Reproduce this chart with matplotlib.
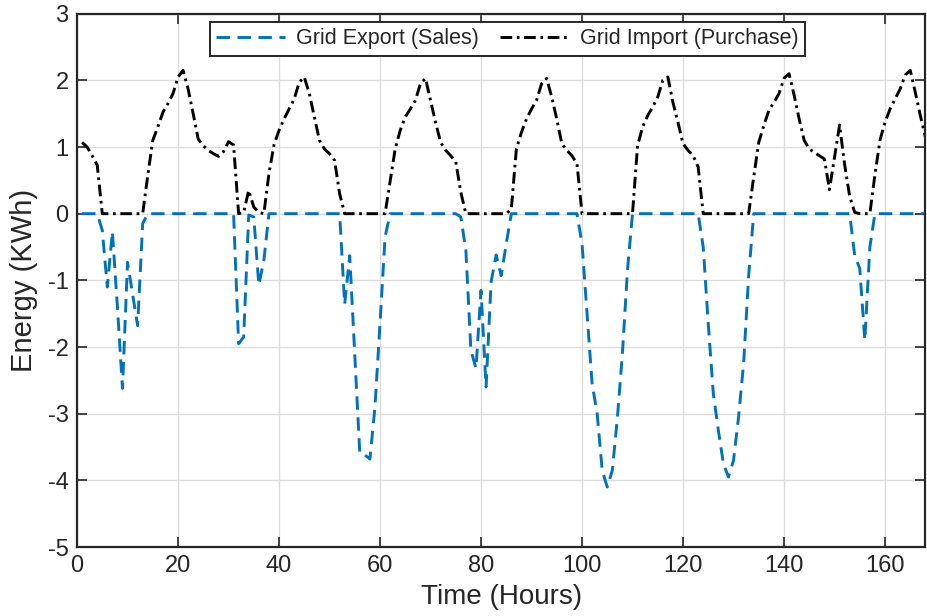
import matplotlib
matplotlib.use("Agg")
import matplotlib.pyplot as plt
import numpy as np

# Hourly energy exchange with the grid over one week
hours = np.arange(1, 169)

grid_import = [
    1.07, 1.00, 0.87, 0.73, 0, 0, 0, 0, 0, 0, 0, 0, 0, 0.57, 1.10, 1.30,
    1.52, 1.65, 1.80, 2.05, 2.15, 1.87, 1.50, 1.12, 1.02, 0.95, 0.90, 0.86,
    0.93, 1.08, 1.03, 0, 0.02, 0.35, 0.10, 0.02, 0, 0.60, 1.03, 1.25,
    1.42, 1.57, 1.72, 1.97, 2.05, 1.80, 1.45, 1.10, 0.97, 0.90, 0.80, 0.30,
    0, 0, 0, 0, 0, 0, 0, 0, 0, 0.48, 0.97, 1.25,
    1.45, 1.57, 1.70, 1.95, 2.03, 1.70, 1.37, 1.07, 0.95, 0.87, 0.78, 0.32,
    0, 0, 0, 0, 0, 0, 0, 0, 0, 0.07, 0.97, 1.22,
    1.42, 1.57, 1.70, 1.95, 2.03, 1.75, 1.42, 1.05, 0.95, 0.87, 0.75, 0,
    0, 0, 0, 0, 0, 0, 0, 0, 0, 0, 1.02, 1.30,
    1.47, 1.60, 1.75, 2.00, 2.05, 1.67, 1.37, 1.05, 0.95, 0.87, 0.70, 0,
    0, 0, 0, 0, 0, 0, 0, 0, 0, 0.55, 1.07, 1.32,
    1.55, 1.67, 1.80, 2.03, 2.10, 1.78, 1.42, 1.10, 0.97, 0.92, 0.87, 0.82,
    0.36, 0.85, 1.33, 0.74, 0.26, 0.02, 0, 0, 0, 0.58, 1.10, 1.37,
    1.57, 1.72, 1.87, 2.08, 2.15, 1.82, 1.47, 1.15,
]

grid_export = [
    0, 0, 0, 0, -0.25, -1.10, -0.27, -1.40, -2.62, -0.73, -1.20, -1.68,
    -0.15, 0, 0, 0, 0, 0, 0, 0, 0, 0, 0, 0,
    0, 0, 0, 0, 0, 0, 0, -1.95, -1.85, -0.02, -0.05, -1.07,
    -0.70, 0, 0, 0, 0, 0, 0, 0, 0, 0, 0, 0,
    0, 0, 0, 0, -1.36, -0.63, -2.10, -3.60, -3.62, -3.68, -2.90, -1.65,
    -0.35, 0, 0, 0, 0, 0, 0, 0, 0, 0, 0, 0,
    0, 0, 0, -0.05, -0.55, -2.05, -2.32, -1.15, -2.60, -1.02, -0.62, -0.93,
    -0.45, 0, 0, 0, 0, 0, 0, 0, 0, 0, 0, 0,
    0, 0, 0, -0.45, -1.50, -2.55, -3.00, -3.85, -4.10, -3.85, -3.07, -2.10,
    -0.85, 0, 0, 0, 0, 0, 0, 0, 0, 0, 0, 0,
    0, 0, 0, -0.50, -1.65, -2.70, -3.25, -3.75, -3.95, -3.70, -3.05, -2.25,
    -0.93, 0, 0, 0, 0, 0, 0, 0, 0, 0, 0, 0,
    0, 0, 0, 0, 0, 0, 0, 0, 0, -0.63, -0.82, -1.90,
    -0.50, 0, 0, 0, 0, 0, 0, 0, 0, 0, 0, 0,
]

x_ticks = list(range(0, 161, 20))
y_ticks = list(range(-5, 4))

series_labels = ["Grid Export (Sales)", "Grid Import (Purchase)"]
x_label = "Time (Hours)"
y_label = "Energy (KWh)"

plt.rcParams["font.family"] = ["Liberation Sans", "DejaVu Sans"]
plt.rcParams["axes.unicode_minus"] = False

axis_color = "#262626"

fig = plt.figure(figsize=(9.28, 6.16), dpi=100)
ax = fig.add_axes([0.083, 0.112, 0.9142, 0.8658])

ax.plot(hours, grid_export, color="#0072BD", linewidth=2.1,
        linestyle=(0, (4.6, 2.6)), label=series_labels[0])
ax.plot(hours, grid_import, color="black", linewidth=2.1,
        linestyle=(0, (4.0, 1.6, 0.9, 1.6)), label=series_labels[1])

ax.set_xlim(0, 168)
ax.set_ylim(-5, 3)
ax.set_xticks(x_ticks)
ax.set_yticks(y_ticks)

ax.grid(True, color="#dcdcdc", linewidth=1.0)
ax.set_axisbelow(True)

for side in ["left", "bottom", "top", "right"]:
    ax.spines[side].set_color(axis_color)
    ax.spines[side].set_linewidth(1.6)

ax.tick_params(direction="in", length=7, width=1.2, colors=axis_color,
               labelsize=17, top=True, right=True, pad=6)
for lbl in ax.get_xticklabels() + ax.get_yticklabels():
    lbl.set_color(axis_color)

ax.set_xlabel(x_label, fontsize=20, color=axis_color, labelpad=5)
ax.set_ylabel(y_label, fontsize=21, color=axis_color, labelpad=7)

leg = ax.legend(loc="upper center", bbox_to_anchor=(0.507, 0.985),
                ncol=2, fontsize=15.5, frameon=True, fancybox=False,
                framealpha=1, edgecolor=axis_color, borderaxespad=0,
                handlelength=3.2, columnspacing=1.0, handletextpad=0.5,
                borderpad=0.3)
leg.get_frame().set_linewidth(1.4)
for t in leg.get_texts():
    t.set_color(axis_color)

fig.savefig("out.png", dpi=100)
